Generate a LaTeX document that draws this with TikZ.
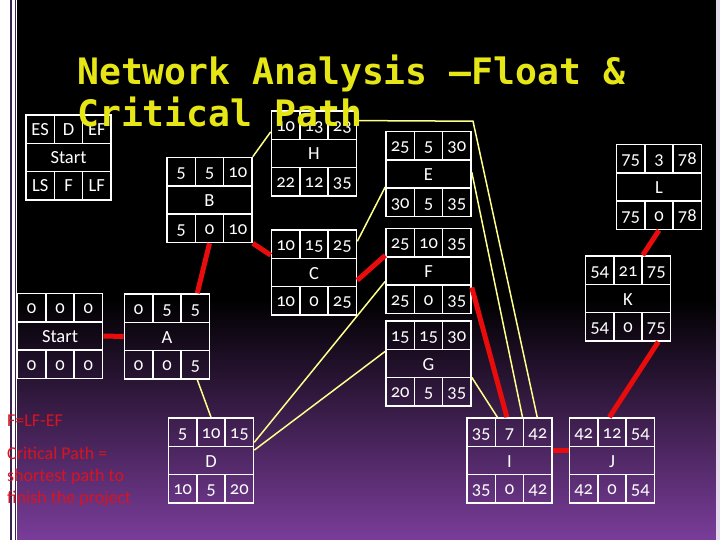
\documentclass[tikz,border=0pt]{standalone}
\usepackage{fontspec}
\setmainfont{Carlito}[Numbers=OldStyle]
\newfontfamily\titlefont{DejaVu Sans Mono}[BoldFont={DejaVu Sans Mono Bold}]
\usetikzlibrary{calc}
\definecolor{slidepurple}{RGB}{122,61,154}
\definecolor{titleyellow}{RGB}{230,230,22}
\definecolor{pathred}{RGB}{232,12,12}
\definecolor{linkyellow}{RGB}{255,255,140}
\definecolor{notered}{RGB}{215,20,32}
\definecolor{edgepurple}{RGB}{58,34,78}

% activity box: name, centre, ES, D, EF, label, LS, F, LF
\newcommand{\actbox}[9]{%
	\node[actframe] (#1) at #2 {};
	\draw[actrule]
			($(#1)+(-42.5,-14.17)$) -- +(85,0)
			($(#1)+(-42.5,14.17)$) -- +(85,0)
			($(#1)+(-14.17,-42.5)$) -- +(0,28.33)
			($(#1)+(14.17,-42.5)$) -- +(0,28.33)
			($(#1)+(-14.17,14.17)$) -- +(0,28.33)
			($(#1)+(14.17,14.17)$) -- +(0,28.33);
	\node[cell] (#1-es) at ($(#1)+(-28.33,-22.33)$) {#3};
	\node[cell] (#1-d) at ($(#1)+(0,-22.33)$) {#4};
	\node[cell] (#1-ef) at ($(#1)+(28.33,-22.33)$) {#5};
	\node[cell] (#1-name) at ($(#1)+(0,6.5)$) {#6};
	\node[cell] (#1-ls) at ($(#1)+(-28.33,34.33)$) {#7};
	\node[cell] (#1-f) at ($(#1)+(0,34.33)$) {#8};
	\node[cell] (#1-lf) at ($(#1)+(28.33,34.33)$) {#9};
}

\begin{document}
\begin{tikzpicture}[x=1pt,y=-1pt,
		actframe/.style = {draw=white, line width=1.6pt, rectangle, minimum width=85pt, minimum height=85pt, inner sep=0pt},
		actrule/.style = {draw=white, line width=1.6pt},
		cell/.style = {anchor=base, inner sep=0pt, text=white, font=\fontsize{18.5}{20}\selectfont},
		critical/.style = {draw=pathred, line width=5pt},
		link/.style = {draw=linkyellow, line width=1.5pt},
		note/.style = {anchor=base west, inner sep=0pt, text=notered, font=\fontsize{18}{22}\selectfont},
		headline/.style = {anchor=base west, inner sep=0pt, text=titleyellow, font=\titlefont\bfseries\fontsize{36.4}{42}\selectfont}]
	\useasboundingbox (0,0) rectangle (720,540);
	\fill[black] (0,0) rectangle (720,300);
	\shade[top color=black, bottom color=slidepurple] (0,299) rectangle (720,540);

	\actbox{key}{(68.5,157.5)}{ES}{D}{EF}{Start}{LS}{F}{LF}
	\actbox{start}{(60,336)}{0}{0}{0}{Start}{0}{0}{0}
	\actbox{a}{(167,336.5)}{0}{5}{5}{A}{0}{0}{5}
	\actbox{b}{(209.5,200)}{5}{5}{10}{B}{5}{0}{10}
	\actbox{h}{(314,153.5)}{10}{13}{23}{H}{22}{12}{35}
	\actbox{c}{(314,272.5)}{10}{15}{25}{C}{10}{0}{25}
	\actbox{e}{(428.5,174)}{25}{5}{30}{E}{30}{5}{35}
	\actbox{f}{(428.5,271)}{25}{10}{35}{F}{25}{0}{35}
	\actbox{g}{(428.5,363.5)}{15}{15}{30}{G}{20}{5}{35}
	\actbox{d}{(211,460.5)}{5}{10}{15}{D}{10}{5}{20}
	\actbox{i}{(509.5,460.5)}{35}{7}{42}{I}{35}{0}{42}
	\actbox{j}{(612,460.5)}{42}{12}{54}{J}{42}{0}{54}
	\actbox{k}{(628,298.5)}{54}{21}{75}{K}{54}{0}{75}
	\actbox{l}{(659,187)}{75}{3}{78}{L}{75}{0}{78}

	% critical path
	\draw[critical] (start.east) -- (a.west);
	\draw[critical] ($(a.north)!0.7!(a.north east)$) -- (b.south);
	\draw[critical] (b.south east) -- ($(c.north west)!0.3!(c.south west)$);
	\draw[critical] ($(c.north east)!0.59!(c.south east)$) -- ($(f.north west)!0.32!(f.south west)$);
	\draw[critical] ($(f.north east)!0.69!(f.south east)$) -- ($(i.north west)!0.47!(i.north east)$);
	\draw[critical] ($(i.north east)!0.38!(i.south east)$) -- ($(j.north west)!0.38!(j.south west)$);
	\draw[critical] ($(j.north west)!0.47!(j.north east)$) -- ($(k.south west)!0.85!(k.south east)$);
	\draw[critical] ($(k.north west)!0.67!(k.north east)$) -- (l.south);

	% other links
	\coordinate (hbend) at (473,121.2);
	\draw[link] (b.north east) -- ($(h.north west)!0.25!(h.south west)$);
	\draw[link] ($(h.north east)!0.12!(h.south east)$) -- (hbend) -- ($(i.north west)!0.82!(i.north east)$);
	\draw[link] ($(e.north east)!0.48!(e.south east)$) -- ($(i.north west)!0.65!(i.north east)$);
	\draw[link] ($(c.north east)!0.14!(c.south east)$) -- ($(e.north west)!0.65!(e.south west)$);
	\draw[link] ($(d.north east)!0.29!(d.south east)$) -- ($(f.north west)!0.62!(f.south west)$);
	\draw[link] ($(d.north east)!0.38!(d.south east)$) -- ($(g.north west)!0.36!(g.south west)$);
	\draw[link] ($(a.south)!0.7!(a.south east)$) -- (d.north);
	\draw[link] ($(g.north east)!0.66!(g.south east)$) -- ($(i.north west)!0.36!(i.north east)$);

	\node[headline] (title1) at (77,85) {Network Analysis –Float \&};
	\node[headline] (title2) at (77,127) {Critical Path};

	% slide edges
	\fill[white] (0,0) rectangle (17,540);
	\draw[edgepurple, line width=1.6pt] (11,0) -- (11,540) (15.5,0) -- (15.5,540);
	\fill[white!80!slidepurple] (716,0) rectangle (720,540);

	\node[note] (floatrule) at (7,426) {F=LF-EF};
	\node[note] (critnote1) at (7,459) {Critical Path =};
	\node[note] (critnote2) at (7,481) {shortest path to};
	\node[note] (critnote3) at (7,503) {finish the project};
\end{tikzpicture}
\end{document}
